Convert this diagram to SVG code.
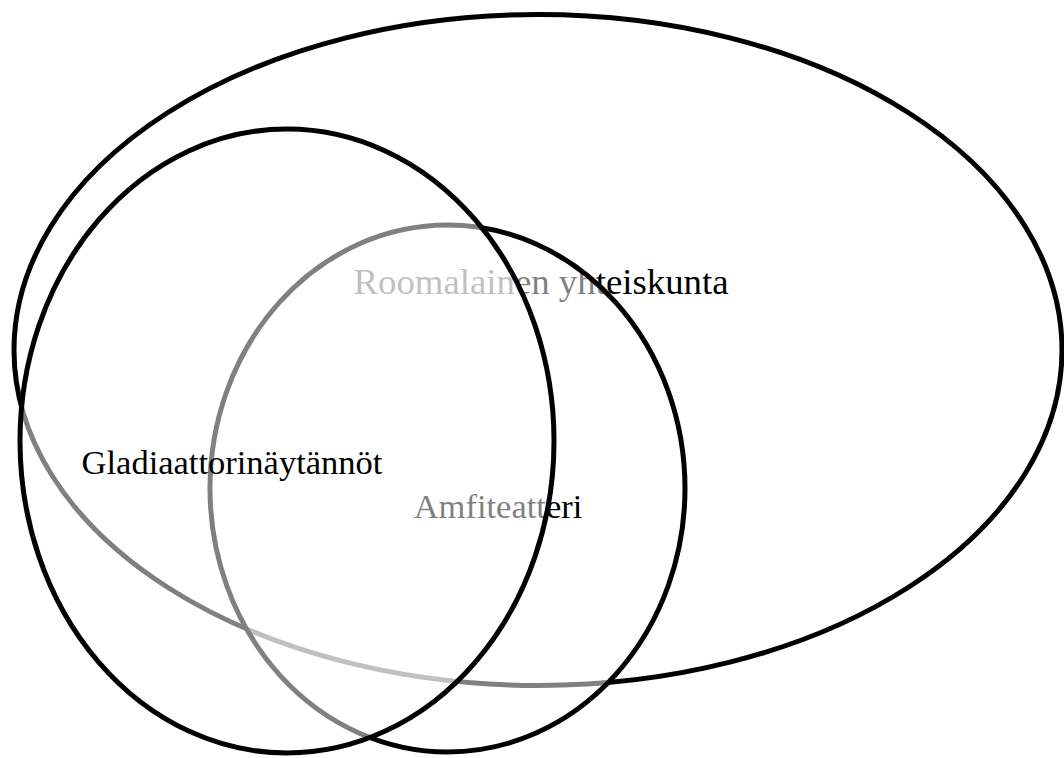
<svg xmlns="http://www.w3.org/2000/svg" width="1064" height="758" viewBox="0 0 1064 758">
<style>
.set{stroke:#000;stroke-width:5;}
.top{fill:#fff;fill-opacity:0.5;}
.lbl{font-family:"Liberation Serif","Times New Roman",serif;text-anchor:middle;}
</style>
<rect x="0" y="0" width="1064" height="758" fill="#fff"/>
<g id="connectors"></g>
<g id="roomalainen">
<ellipse class="set" cx="538" cy="350" rx="524" ry="335.5" fill="#fff"/>
<text class="lbl" x="541" y="294" font-size="36.8" fill="#000">Roomalainen yhteiskunta</text>
</g>
<g id="amfiteatteri">
<ellipse class="set top" cx="447.5" cy="488.5" rx="237.5" ry="263.5"/>
<text class="lbl" x="498" y="518" font-size="34.5" fill="#000">Amfiteatteri</text>
</g>
<g id="gladiaattori">
<ellipse class="set top" cx="287" cy="441" rx="267" ry="312"/>
<text class="lbl" x="232" y="474" font-size="34.5" fill="#000">Gladiaattorinäytännöt</text>
</g>
</svg>
